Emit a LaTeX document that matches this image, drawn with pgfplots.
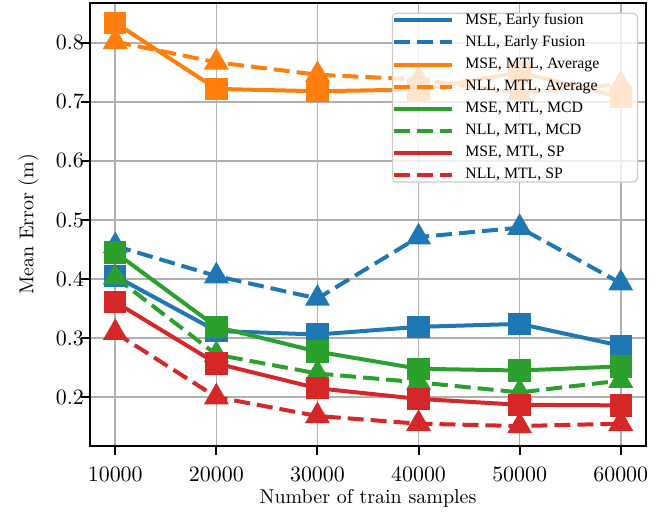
\documentclass[border=0pt]{standalone}
\usepackage{fontspec}
\usepackage{pgfplots}
\pgfplotsset{compat=1.18}
\newfontfamily\legendfont{Liberation Serif}
\definecolor{tabblue}{HTML}{1F77B4}
\definecolor{taborange}{HTML}{FF7F0E}
\definecolor{tabgreen}{HTML}{2CA02C}
\definecolor{tabred}{HTML}{D62728}
\definecolor{gridgray}{HTML}{B0B0B0}
\definecolor{legendgray}{HTML}{CCCCCC}
\pgfplotstableread{
x     bmse  bnll  omse  onll  gmse  gnll  rmse  rnll
10000 0.405 0.456 0.834 0.802 0.445 0.403 0.361 0.309
20000 0.312 0.405 0.722 0.767 0.319 0.272 0.257 0.200
30000 0.306 0.367 0.718 0.746 0.277 0.240 0.215 0.168
40000 0.319 0.471 0.721 0.738 0.248 0.225 0.197 0.155
50000 0.324 0.487 0.750 0.715 0.245 0.208 0.187 0.151
60000 0.287 0.393 0.708 0.730 0.252 0.228 0.186 0.155
}\datatable
\begin{document}
\begin{tikzpicture}
\begin{axis}[
  scale only axis,
  width=278pt, height=221.7pt,
  xmin=7500, xmax=62500,
  ymin=0.117, ymax=0.868,
  xtick={10000,20000,30000,40000,50000,60000},
  ytick={0.2,0.3,0.4,0.5,0.6,0.7,0.8},
  scaled x ticks=false,
  xticklabel style={/pgf/number format/1000 sep={}, font=\fontsize{10.8}{13}\selectfont, yshift=-2.5pt},
  yticklabel style={/pgf/number format/fixed, /pgf/number format/precision=1, font=\fontsize{10.8}{13}\selectfont, xshift=5pt},
  tick pos=left,
  tick align=outside,
  major tick length=4.5pt,
  every tick/.style={black, line width=1pt},
  axis line style={line width=1pt},
  grid=major,
  major grid style={color=gridgray, line width=0.8pt},
  xlabel={Number of train samples},
  ylabel={Mean Error (m)},
  label style={font=\fontsize{9.8}{12}\selectfont},
  every axis x label/.style={at={(axis description cs:0.5,-0.118)}, anchor=center},
  every axis y label/.style={at={(axis description cs:-0.111,0.5)}, rotate=90, anchor=center},
  legend image code/.code={\draw[#1, mark=none] (0pt,0pt) -- (29pt,0pt);},
  legend cell align=left,
  legend style={at={(axis description cs:1,1)}, anchor=north east, xshift=-4pt, yshift=-5pt,
    draw=legendgray, line width=0.6pt, rounded corners=2pt, fill=white, fill opacity=0.8,
    draw opacity=1, text opacity=1, inner xsep=0pt, inner ysep=-2pt,
    column sep=5.5pt, row sep=0pt,
    font=\legendfont\fontsize{7.9}{9}\selectfont,
    nodes={inner sep=0pt, text height=7.5pt, text depth=3.55pt}},
  every axis plot/.append style={line width=2pt},
]
\pgfplotsset{
  msestyle/.style={solid, mark=square*, mark size=4.6pt, mark options={solid}},
  nllstyle/.style={dash pattern=on 8pt off 3.5pt, mark=triangle*, mark size=5.2pt, mark options={solid}},
}
\addplot[color=tabblue, msestyle] table[x=x, y=bmse] {\datatable};
\addlegendentry{\makebox[86pt][l]{MSE, Early fusion}}
\addplot[color=tabblue, nllstyle] table[x=x, y=bnll] {\datatable};
\addlegendentry{\makebox[86pt][l]{NLL, Early Fusion}}
\addplot[color=taborange, msestyle] table[x=x, y=omse] {\datatable};
\addlegendentry{\makebox[86pt][l]{MSE, MTL, Average}}
\addplot[color=taborange, nllstyle] table[x=x, y=onll] {\datatable};
\addlegendentry{\makebox[86pt][l]{NLL, MTL, Average}}
\addplot[color=tabgreen, msestyle] table[x=x, y=gmse] {\datatable};
\addlegendentry{\makebox[86pt][l]{MSE, MTL, MCD}}
\addplot[color=tabgreen, nllstyle] table[x=x, y=gnll] {\datatable};
\addlegendentry{\makebox[86pt][l]{NLL, MTL, MCD}}
\addplot[color=tabred, msestyle] table[x=x, y=rmse] {\datatable};
\addlegendentry{\makebox[86pt][l]{MSE, MTL, SP}}
\addplot[color=tabred, nllstyle] table[x=x, y=rnll] {\datatable};
\addlegendentry{\makebox[86pt][l]{NLL, MTL, SP}}
\end{axis}
\path ([xshift=-45pt,yshift=-36.5pt]current axis.south west) rectangle ([xshift=9.5pt,yshift=1.35pt]current axis.north east);
\end{tikzpicture}
\end{document}
